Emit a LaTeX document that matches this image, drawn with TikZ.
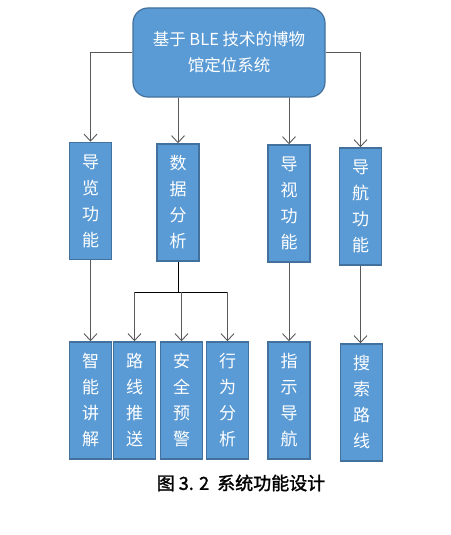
\documentclass[tikz,border=0pt]{standalone}
\usepackage{fontspec}
\setmainfont{Noto Sans CJK SC}
\newfontfamily\cjk{Noto Sans CJK SC}
\newfontfamily\cjkbold[FakeBold=1.6]{Noto Sans CJK SC}
\usetikzlibrary{arrows.meta}
\definecolor{boxfill}{HTML}{5B9BD5}
\definecolor{boxline}{HTML}{41719C}
\definecolor{linegray}{HTML}{595959}

\begin{document}
\begin{tikzpicture}[
  x=1pt,y=-1pt,
  topbox/.style={draw=boxline,fill=boxfill,line width=1.2pt,rounded corners=15pt,text=white,
    align=center,minimum width=192pt,minimum height=89pt,font=\cjk\fontsize{16.5}{26}\selectfont},
  fnbox/.style={draw=boxline,fill=boxfill,line width=1.5pt,text=white,align=center,inner sep=0pt,
    minimum width=42pt,minimum height=117pt,font=\cjk\fontsize{17}{26}\selectfont},
  arrow/.style={linegray,line width=0.9pt,-{Straight Barb[length=7pt,width=13pt]}}
]
\useasboundingbox (0,0) rectangle (450,535);
\node[topbox] (museum) at (229,52.5) {基于 BLE 技术的博物\\馆定位系统};
% second level
\node[fnbox] (guide) at (90.5,201) {导\\览\\功\\能};
\node[fnbox] (data) at (178,202.5) {数\\据\\分\\析};
\node[fnbox] (view) at (289,203.5) {导\\视\\功\\能};
\node[fnbox] (nav) at (360.5,206.5) {导\\航\\功\\能};
% third level
\node[fnbox] (explain) at (90.5,400.5) {智\\能\\讲\\解};
\node[fnbox] (route) at (134.5,400.5) {路\\线\\推\\送};
\node[fnbox] (alarm) at (181.5,400.5) {安\\全\\预\\警};
\node[fnbox] (behave) at (227.5,400.5) {行\\为\\分\\析};
\node[fnbox] (point) at (289,400.5) {指\\示\\导\\航};
\node[fnbox] (search) at (361.5,402.5) {搜\\索\\路\\线};
\node[font=\cjkbold\fontsize{18}{20}\selectfont] (caption) at (241,483) {图 3. 2 \ 系统功能设计};
\coordinate (fork) at (178,292);
\draw[arrow] (museum.west) -| (guide.north);
\draw[arrow] (museum.east) -| (nav.north);
\draw[arrow] (museum.south -| data.north) -- (data.north);
\draw[arrow] (museum.south -| view.north) -- (view.north);
\draw[arrow] (guide) -- (explain);
\draw[arrow] (view) -- (point);
\draw[arrow] (nav.south) -- (nav.south |- search.north);
\draw[line width=0.8pt] (data.south) -- (fork);
\draw[line width=0.8pt] (fork -| route.north) -- (fork -| behave.north);
\draw[arrow] (fork -| route.north) -- (route.north);
\draw[arrow] (fork -| alarm.north) -- (alarm.north);
\draw[arrow] (fork -| behave.north) -- (behave.north);
\end{tikzpicture}
\end{document}
